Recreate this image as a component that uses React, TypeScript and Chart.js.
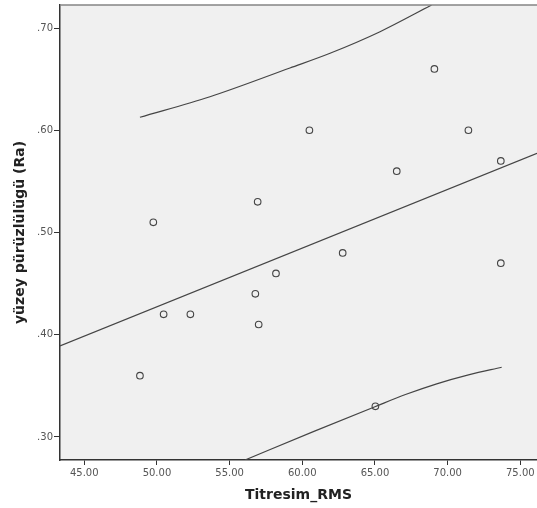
import React, { useEffect, useRef } from "react";
import { Chart, registerables } from "chart.js";

Chart.register(...registerables);

// Observed data (Titresim_RMS vs yüzey pürüzlülügü)
const xValues = [48.83, 49.75, 50.46, 52.3, 56.77, 56.93, 57.0, 58.19, 60.49, 62.78, 65.03, 66.5, 69.09, 71.43, 73.66, 73.66];
const yValues = [0.36, 0.51, 0.42, 0.42, 0.44, 0.53, 0.41, 0.46, 0.6, 0.48, 0.33, 0.56, 0.66, 0.6, 0.57, 0.47];

// Fit line
const fitX = [43.33, 76.15];
const fitY = [0.389, 0.5775];

// Upper prediction curve
const upperX = [48.83, 53.65, 59.15, 61.91, 65.35, 68.9];
const upperY = [0.6127, 0.6328, 0.6609, 0.6753, 0.6964, 0.7225];

// Lower prediction curve
const lowerX = [56.06, 60.76, 65.0, 67.1, 69.25, 71.5, 73.72];
const lowerY = [0.2775, 0.3052, 0.3296, 0.3415, 0.352, 0.361, 0.3682];

// Axes
const xTicks = [45, 50, 55, 60, 65, 70, 75];
const yTicks = [0.3, 0.4, 0.5, 0.6, 0.7];
const xMin = 43.33;
const xMax = 76.15;
const yMin = 0.2775;
const yMax = 0.7225;

const xTitle = "Titresim_RMS";
const yTitle = "yüzey pürüzlülügü (Ra)";

const toPts = (xs: number[], ys: number[]) => xs.map((x, i) => ({ x, y: ys[i] }));

const bgPlugin = {
  id: "plotBg",
  beforeDraw(chart: any) {
    const { ctx, chartArea } = chart;
    if (!chartArea) return;
    ctx.save();
    ctx.fillStyle = "#f0f0f0";
    ctx.fillRect(chartArea.left, chartArea.top, chartArea.right - chartArea.left, chartArea.bottom - chartArea.top);
    ctx.restore();
  },
  afterDraw(chart: any) {
    const { ctx, chartArea } = chart;
    ctx.save();
    ctx.strokeStyle = "#858585";
    ctx.lineWidth = 1.5;
    ctx.beginPath();
    ctx.moveTo(chartArea.left, chartArea.top);
    ctx.lineTo(chartArea.right, chartArea.top);
    ctx.stroke();
    ctx.restore();
  },
};

export default function App() {
  const ref = useRef<HTMLCanvasElement | null>(null);

  useEffect(() => {
    document.body.style.margin = "0";
    const canvas = ref.current;
    if (!canvas) return;
    const lineColor = "#454545";
    const chart = new Chart(canvas, {
      type: "scatter",
      data: {
        datasets: [
          {
            data: toPts(fitX, fitY),
            showLine: true,
            borderColor: lineColor,
            borderWidth: 1.2,
            pointRadius: 0,
            fill: false,
          },
          {
            data: toPts(upperX, upperY),
            showLine: true,
            borderColor: lineColor,
            borderWidth: 1.2,
            pointRadius: 0,
            cubicInterpolationMode: "monotone",
            fill: false,
          },
          {
            data: toPts(lowerX, lowerY),
            showLine: true,
            borderColor: lineColor,
            borderWidth: 1.2,
            pointRadius: 0,
            cubicInterpolationMode: "monotone",
            fill: false,
          },
          {
            data: toPts(xValues, yValues),
            showLine: false,
            pointRadius: 3.3,
            pointBorderWidth: 1.1,
            pointBorderColor: "#444",
            pointBackgroundColor: "rgba(0,0,0,0)",
            borderColor: "#444",
            backgroundColor: "rgba(0,0,0,0)",
          },
        ],
      },
      options: {
        animation: false,
        responsive: false,
        maintainAspectRatio: false,
        layout: { autoPadding: false, padding: { top: 5, right: 0, left: 0, bottom: 0 } },
        plugins: {
          legend: { display: false },
          tooltip: { enabled: false },
        },
        scales: {
          x: {
            type: "linear",
            min: xMin,
            max: xMax,
            afterBuildTicks: (s: any) => {
              s.ticks = xTicks.map((v) => ({ value: v }));
            },
            afterFit: (s: any) => {
              s.height = 48;
              s.paddingLeft = 0;
              s.paddingRight = 0;
            },
            grid: {
              drawOnChartArea: false,
              drawTicks: true,
              tickLength: 5,
              tickColor: "#333",
              tickWidth: 1,
            },
            border: { display: true, color: "#333", width: 1.5 },
            ticks: {
              padding: 2,
              color: "#555",
              font: { family: "DejaVu Sans", size: 10 },
              maxRotation: 0,
              callback: (v: any) => Number(v).toFixed(2),
            },
            title: {
              display: true,
              text: xTitle,
              color: "#222",
              font: { family: "DejaVu Sans", size: 14, weight: "bold" },
              padding: { top: 0, bottom: 4 },
            },
          },
          y: {
            type: "linear",
            min: yMin,
            max: yMax,
            afterBuildTicks: (s: any) => {
              s.ticks = yTicks.map((v) => ({ value: v }));
            },
            afterFit: (s: any) => {
              s.width = 60;
              s.paddingTop = 0;
              s.paddingBottom = 0;
            },
            grid: {
              drawOnChartArea: false,
              drawTicks: true,
              tickLength: 6,
              tickColor: "#333",
              tickWidth: 1,
            },
            border: { display: true, color: "#333", width: 1.5 },
            ticks: {
              padding: 1,
              color: "#555",
              font: { family: "DejaVu Sans", size: 10 },
              callback: (v: any) => "." + Number(v).toFixed(2).split(".")[1],
            },
            title: {
              display: true,
              text: yTitle,
              color: "#222",
              font: { family: "DejaVu Sans", size: 14, weight: "bold" },
              padding: { top: 12, bottom: 0 },
            },
          },
        },
      },
      plugins: [bgPlugin],
    } as any);
    return () => chart.destroy();
  }, []);

  return (
    <div style={{ width: 537, height: 508, background: "#fff" }}>
      <canvas ref={ref} width={537} height={508} style={{ display: "block", width: 537, height: 508 }} />
    </div>
  );
}
